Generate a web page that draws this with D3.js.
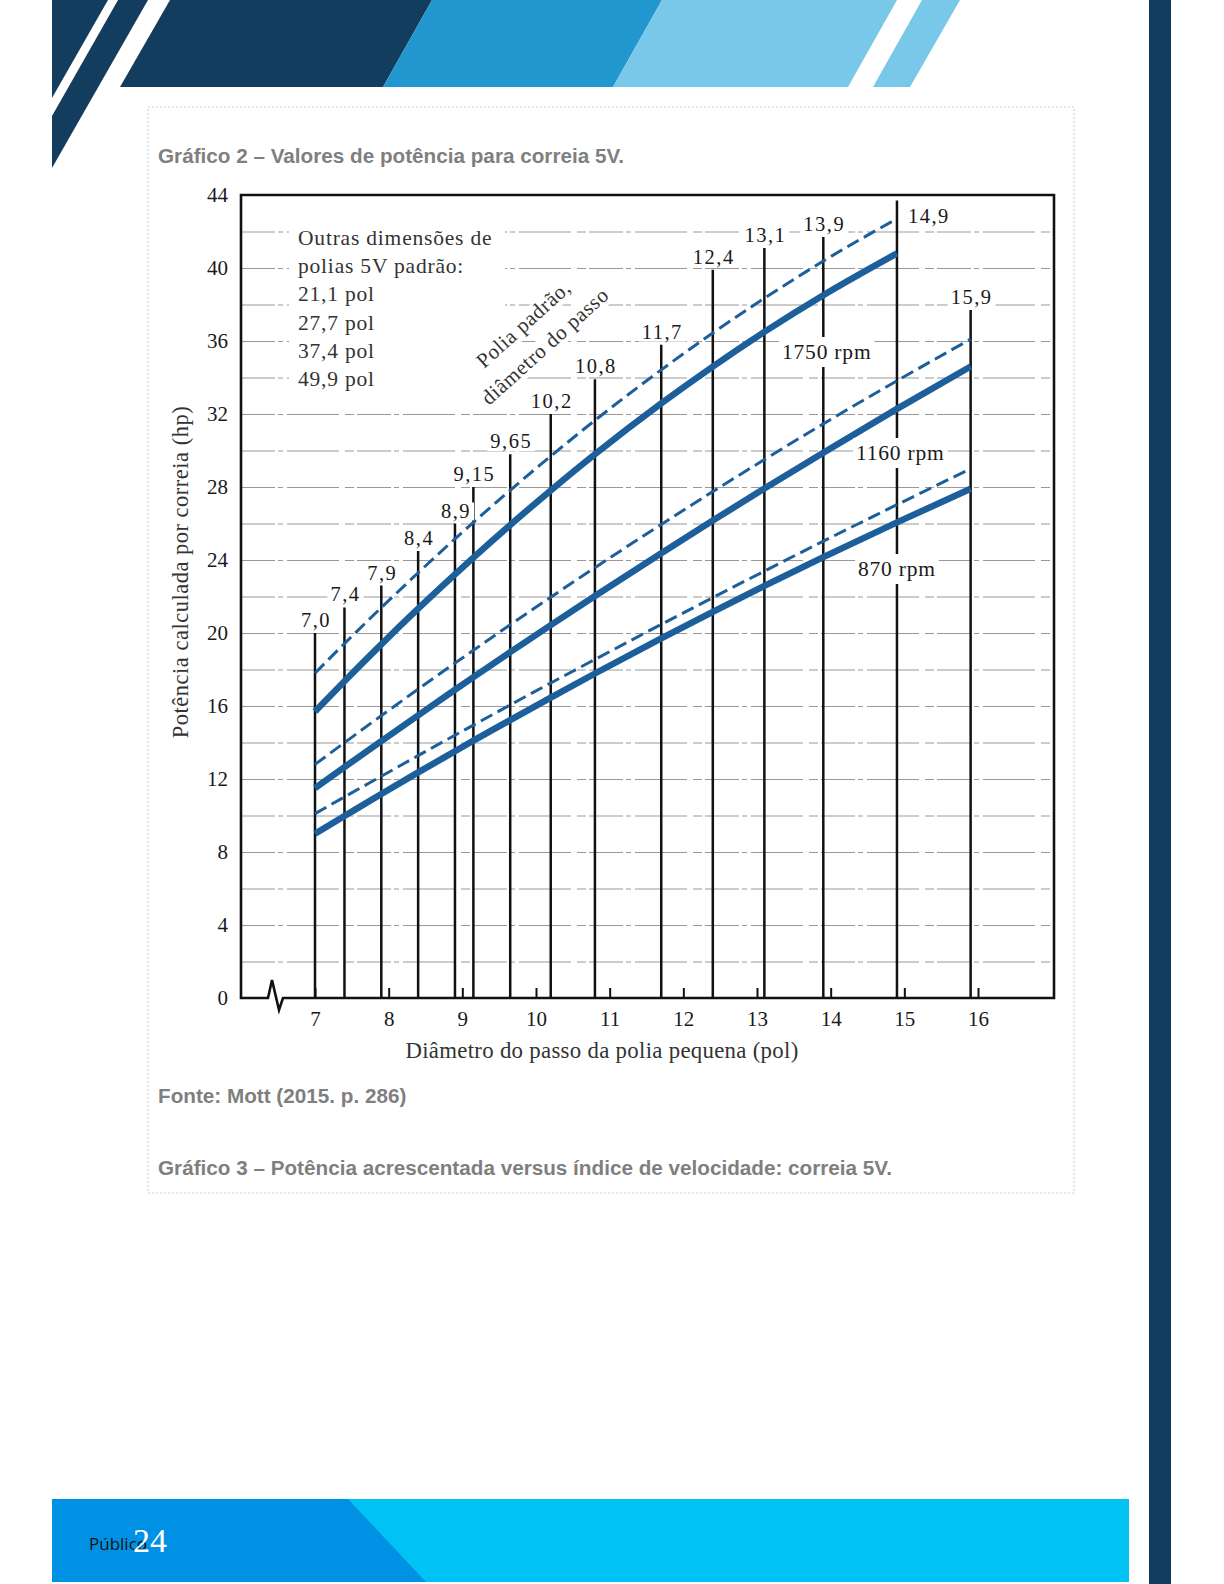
<!DOCTYPE html>
<html lang="pt">
<head>
<meta charset="UTF-8">
<title>Gráfico 2 – Valores de potência para correia 5V</title>
<style>
  body { margin: 0; background: #fff; }
  .serif { font-family: "Liberation Serif", "DejaVu Serif", serif; }
  .sans { font-family: "Liberation Sans", Arial, sans-serif; }
</style>
</head>
<body>
<div class="container"></div>
<script src="https://cdn.jsdelivr.net/npm/d3@7/dist/d3.min.js"></script>
<script>
// pulley pitch diameters (pol) and how far each vertical line reaches (hp)
const pulleyDiam = [7.0, 7.4, 7.9, 8.4, 8.9, 9.15, 9.65, 10.2, 10.8, 11.7, 12.4, 13.1, 13.9, 14.9, 15.9]
const pulleyLabels = ["7,0", "7,4", "7,9", "8,4", "8,9", "9,15", "9,65", "10,2", "10,8", "11,7", "12,4", "13,1", "13,9", "14,9", "15,9"]
const pulleyTop = [20.0, 21.4, 22.6, 24.5, 26.0, 28.0, 29.8, 32.0, 33.9, 35.8, 39.9, 41.1, 41.7, 43.7, 37.7]

// rated power per belt (hp) read at each pulley diameter
const solid1750 = [15.7, 17.36, 19.38, 21.33, 23.21, 24.13, 25.92, 27.81, 29.79, 32.58, 34.6, 36.5, 38.51, 40.8]
const dashed1750 = [17.8, 19.42, 21.39, 23.3, 25.16, 26.06, 27.82, 29.69, 31.65, 34.42, 36.44, 38.34, 40.38, 42.7]
const solid1160 = [11.5, 12.65, 14.08, 15.49, 16.89, 17.58, 18.95, 20.43, 22.03, 24.37, 26.16, 27.92, 29.88, 32.28, 34.6]
const dashed1160 = [12.8, 13.99, 15.47, 16.92, 18.35, 19.05, 20.45, 21.96, 23.58, 25.95, 27.75, 29.5, 31.46, 33.82, 36.1]
const solid870 = [9.0, 9.97, 11.18, 12.36, 13.52, 14.1, 15.23, 16.46, 17.78, 19.7, 21.16, 22.58, 24.16, 26.06, 27.9]
const dashed870 = [10.1, 11.02, 12.15, 13.28, 14.4, 14.95, 16.06, 17.26, 18.55, 20.47, 21.94, 23.39, 25.03, 27.03, 29.0]

const rpmLabels = ["1750 rpm", "1160 rpm", "870 rpm"]
const xTicks = [7, 8, 9, 10, 11, 12, 13, 14, 15, 16]
const yTicks = [0, 4, 8, 12, 16, 20, 24, 28, 32, 36, 40, 44]
const legendLines = ["Outras dimensões de", "polias 5V padrão:", "21,1 pol", "27,7 pol", "37,4 pol", "49,9 pol"]

const width = 1224
const height = 1584
const navy = "#133d5f"
const curveColor = "#1c5f9b"

const svg = d3.select(".container").append("svg")
    .attr("width", width)
    .attr("height", height)

// ---- page decoration ----
const deco = svg.append("g").attr("class", "deco")
const poly = (pts, fill) => deco.append("polygon").attr("points", pts.map(p => p.join(",")).join(" ")).attr("fill", fill)

poly([[52, 0], [108, 0], [52, 98]], navy)
poly([[118, 0], [148, 0], [52, 168], [52, 116]], navy)
poly([[170, 0], [432, 0], [383, 87], [120, 87]], navy)
poly([[432, 0], [662, 0], [613, 87], [383, 87]], "#2196cf")
poly([[662, 0], [897, 0], [848, 87], [613, 87]], "#79c7e9")
poly([[922, 0], [960, 0], [910, 87], [873, 87]], "#79c7e9")

deco.append("rect").attr("x", 1149).attr("y", 0).attr("width", 22).attr("height", height).attr("fill", navy)

deco.append("rect").attr("x", 52).attr("y", 1499).attr("width", 1077).attr("height", 83).attr("fill", "#00c3f4")
poly([[52, 1499], [348, 1499], [426, 1582], [52, 1582]], "#0091e4")

deco.append("text").attr("x", 89).attr("y", 1550)
    .attr("font-family", "'Open Sans', sans-serif").attr("font-size", 17).attr("fill", "#111")
    .text("Público")
deco.append("text").attr("class", "serif").attr("x", 133).attr("y", 1552)
    .attr("font-size", 34).attr("fill", "#fff")
    .text("24")

deco.append("rect").attr("x", 148).attr("y", 107).attr("width", 926).attr("height", 1086)
    .attr("fill", "none").attr("stroke", "#cfcfcf").attr("stroke-dasharray", "2,2")

const caption = (y, str) => svg.append("text").attr("class", "sans")
    .attr("x", 158).attr("y", y)
    .attr("font-size", 20.7).attr("font-weight", "bold").attr("fill", "#7f7f7f")
    .text(str)

caption(163, "Gráfico 2 – Valores de potência para correia 5V.")
caption(1103, "Fonte: Mott (2015. p. 286)")
caption(1175, "Gráfico 3 – Potência acrescentada versus índice de velocidade: correia 5V.")

// ---- chart ----
const frame = { left: 241, right: 1054, top: 195, bottom: 998 }

const x = d3.scaleLinear().domain([7, 16]).range([315, 978])
const y = d3.scaleLinear().domain([0, 44]).range([frame.bottom, frame.top])

const chart = svg.append("g").attr("class", "chart serif")

// horizontal grid every 2 hp
const grid = chart.append("g")
    .attr("transform", `translate(${frame.left},0)`)
    .call(d3.axisLeft(y).tickValues(d3.range(2, 44, 2)).tickSize(-(frame.right - frame.left)).tickFormat(""))
grid.select(".domain").remove()
grid.selectAll("line")
    .attr("stroke", "#999")
    .attr("stroke-width", 1)
    .attr("stroke-dasharray", "34,3,5,4,52,6,9,3")

// white area behind the legend text
chart.append("rect").attr("x", 289).attr("y", 222).attr("width", 216).attr("height", 170).attr("fill", "#fff")

const legend = chart.append("g").attr("fill", "#333").attr("font-size", 21.5).attr("letter-spacing", 0.8)
legendLines.forEach((t, i) => {
    legend.append("text").attr("x", 298).attr("y", 245 + i * 28.2).text(t)
})

// rotated note
const noteLines = [
    { t: "Polia padrão,", x: 484, y: 369 },
    { t: "diâmetro do passo", x: 489, y: 406 }
]
noteLines.forEach(n => {
    const g = chart.append("g").attr("transform", `translate(${n.x},${n.y}) rotate(-42)`)
    const bg = g.append("rect").attr("fill", "#fff")
    const txt = g.append("text").attr("font-size", 21).attr("fill", "#333").attr("letter-spacing", 0.6).text(n.t)
    const b = txt.node().getBBox()
    bg.attr("x", b.x - 2).attr("y", b.y + 2).attr("width", b.width + 4).attr("height", b.height - 2)
})

// pulley vertical lines
chart.append("g").selectAll("line")
    .data(pulleyDiam)
    .join("line")
    .attr("x1", d => x(d)).attr("x2", d => x(d))
    .attr("y1", y(0))
    .attr("y2", (d, i) => y(pulleyTop[i]))
    .attr("stroke", "#111")
    .attr("stroke-width", 2.5)

// pulley labels (14,9 sits beside its line, inside the frame)
const plab = chart.append("g").attr("font-size", 20.5).attr("fill", "#1a1a1a").attr("letter-spacing", 1.5)
pulleyDiam.forEach((d, i) => {
    const side = pulleyLabels[i] === "14,9"
    const bg = plab.append("rect").attr("fill", "#fff")
    const t = plab.append("text")
        .attr("x", side ? x(d) + 11 : x(d) + 1)
        .attr("y", side ? y(pulleyTop[i]) + 23 : y(pulleyTop[i]) - 6)
        .attr("text-anchor", side ? "start" : "middle")
        .text(pulleyLabels[i])
    const b = t.node().getBBox()
    bg.attr("x", b.x - 3).attr("y", b.y + 3).attr("width", b.width + 6).attr("height", b.height - 4)
})

// axes
const xAxis = chart.append("g")
    .attr("transform", `translate(0,${frame.bottom})`)
    .call(d3.axisBottom(x).tickValues(xTicks).tickSize(-10).tickPadding(13))
xAxis.select(".domain").remove()
xAxis.selectAll("line").attr("stroke", "#111").attr("stroke-width", 2)
xAxis.selectAll("text").attr("font-size", 21).attr("font-family", "Liberation Serif").attr("fill", "#1a1a1a")

const yAxis = chart.append("g")
    .attr("transform", `translate(${frame.left},0)`)
    .call(d3.axisLeft(y).tickValues(yTicks).tickSize(0).tickPadding(13))
yAxis.select(".domain").remove()
yAxis.selectAll("text").attr("font-size", 21).attr("font-family", "Liberation Serif").attr("fill", "#1a1a1a")

// frame with axis break on the bottom
const bx = frame.left + 27
chart.append("path")
    .attr("d", `M${bx},${frame.bottom} L${frame.left},${frame.bottom} L${frame.left},${frame.top} L${frame.right},${frame.top} L${frame.right},${frame.bottom} L${bx + 15},${frame.bottom} L${bx + 11},${frame.bottom + 12} L${bx + 4},${frame.bottom - 18} Z`)
    .attr("fill", "none")
    .attr("stroke", "#111")
    .attr("stroke-width", 2.6)
    .attr("stroke-linejoin", "miter")

// power curves
const line = d3.line()
    .x(d => x(d[0]))
    .y(d => y(d[1]))
    .curve(d3.curveMonotoneX)

const series = [
    { vals: dashed1750, dashed: true },
    { vals: solid1750, dashed: false },
    { vals: dashed1160, dashed: true },
    { vals: solid1160, dashed: false },
    { vals: dashed870, dashed: true },
    { vals: solid870, dashed: false }
]

chart.append("g").selectAll("path")
    .data(series)
    .join("path")
    .attr("d", s => line(s.vals.map((v, i) => [pulleyDiam[i], v])))
    .attr("fill", "none")
    .attr("stroke", curveColor)
    .attr("stroke-width", s => s.dashed ? 3 : 6.5)
    .attr("stroke-dasharray", s => s.dashed ? "13,6" : null)
    .attr("stroke-linecap", "butt")

// rpm labels (white behind, they cut the vertical lines)
const rpmPos = [[782, 359], [856, 460], [858, 576]]
const rlab = chart.append("g").attr("font-size", 21.5).attr("fill", "#1a1a1a").attr("letter-spacing", 0.8)
rpmLabels.forEach((r, i) => {
    const bg = rlab.append("rect").attr("fill", "#fff")
    const t = rlab.append("text").attr("x", rpmPos[i][0]).attr("y", rpmPos[i][1]).text(r)
    const b = t.node().getBBox()
    bg.attr("x", b.x - 3).attr("y", b.y - 3).attr("width", b.width + 6).attr("height", b.height + 6)
})

// axis titles
chart.append("text")
    .attr("transform", `translate(188,572) rotate(-90)`)
    .attr("text-anchor", "middle")
    .attr("font-size", 22.5)
    .attr("fill", "#333")
    .attr("letter-spacing", 0.5)
    .text("Potência calculada por correia (hp)")

chart.append("text")
    .attr("x", 602).attr("y", 1058)
    .attr("text-anchor", "middle")
    .attr("font-size", 22.8)
    .attr("fill", "#333")
    .attr("letter-spacing", 0.3)
    .text("Diâmetro do passo da polia pequena (pol)")
</script>
</body>
</html>
